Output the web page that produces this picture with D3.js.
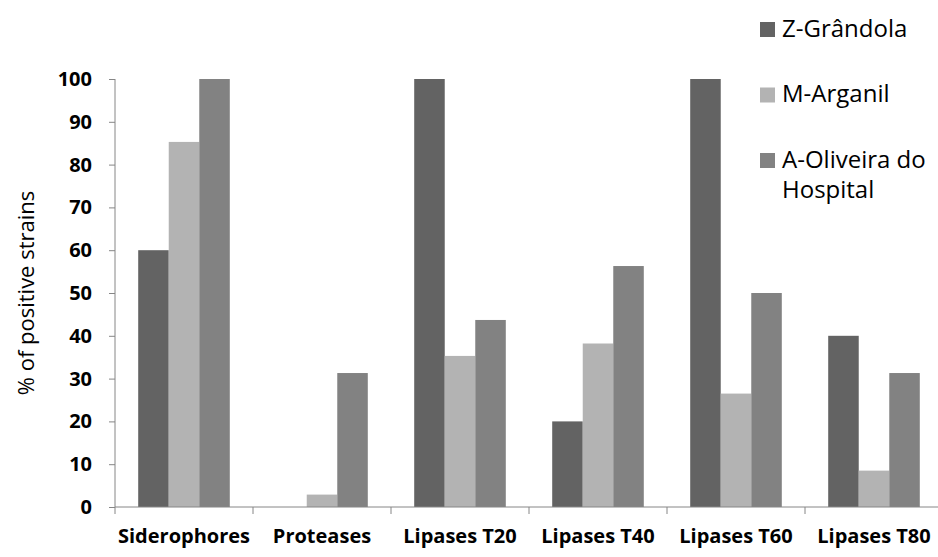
<!DOCTYPE html>
<html>
<head>
<meta charset="utf-8">
<script src="https://cdn.jsdelivr.net/npm/d3@7"></script>
<style>
  body { margin: 0; background: #fff; }
  text { font-family: "Open Sans", sans-serif; fill: #000; }
</style>
</head>
<body>
<div id="chart"></div>
<script>
// data
var categories = ["Siderophores", "Proteases", "Lipases T20", "Lipases T40", "Lipases T60", "Lipases T80"];
var series = ["Z-Grândola", "M-Arganil", "A-Oliveira do Hospital"];
var zGrandola = [60, 0, 100, 20, 100, 40];
var mArganil = [85.3, 2.9, 35.3, 38.2, 26.5, 8.5];
var aOliveira = [100, 31.3, 43.7, 56.3, 50, 31.3];
var yTicks = [0, 10, 20, 30, 40, 50, 60, 70, 80, 90, 100];
var colors = ["#636363", "#b3b3b3", "#828282"];

var values = [zGrandola, mArganil, aOliveira];
var rows = categories.map(function (c, i) {
    return { cat: c, vals: series.map(function (s, j) { return { s: s, v: values[j][i] }; }) };
});

var margin = {top: 79, right: 0, bottom: 50, left: 115};
var W = 938, H = 557;
var plotH = 507 - margin.top;

var svg = d3.select("#chart").append("svg")
    .attr("width", W)
    .attr("height", H);

var x0 = d3.scaleBand()
    .domain(categories)
    .range([0, 828])
    .paddingInner(0).paddingOuter(0);
var x1 = d3.scaleBand()
    .domain(series)
    .range([0, x0.bandwidth()])
    .paddingInner(0).paddingOuter(0.76);
var y = d3.scaleLinear().domain([0, 100]).range([plotH, 0]);

var g = svg.append("g").attr("transform", "translate(" + margin.left + "," + margin.top + ")");

// bars
g.selectAll(".grp")
    .data(rows)
    .enter().append("g")
    .attr("class", "grp")
    .attr("transform", function (d) { return "translate(" + x0(d.cat) + ",0)"; })
    .selectAll("rect")
    .data(function (d) { return d.vals; })
    .enter().append("rect")
    .attr("x", function (d) { return x1(d.s); })
    .attr("y", function (d) { return y(d.v); })
    .attr("width", x1.bandwidth())
    .attr("height", function (d) { return plotH - y(d.v); })
    .attr("fill", function (d) { return colors[series.indexOf(d.s)]; });

// y axis
var yAxis = g.append("g")
    .call(d3.axisLeft(y).tickValues(yTicks).tickSize(6).tickPadding(17));
yAxis.select(".domain").attr("stroke", "#868686").attr("d", "M0," + y(100) + "V" + plotH);
yAxis.selectAll(".tick line").attr("stroke", "#868686");
yAxis.selectAll("text")
    .style("font-size", "20px").style("font-weight", "700");

// x axis with ticks at band boundaries
var xAxis = g.append("g").attr("transform", "translate(0," + plotH + ")");
xAxis.append("line")
    .attr("x1", 0).attr("x2", W - margin.left)
    .attr("stroke", "#868686");
xAxis.selectAll(".xt")
    .data(categories)
    .enter().append("line")
    .attr("x1", function (d) { return x0(d); })
    .attr("x2", function (d) { return x0(d); })
    .attr("y2", 7)
    .attr("stroke", "#868686");
xAxis.selectAll(".xl")
    .data(categories)
    .enter().append("text")
    .attr("x", function (d) { return x0(d) + x0.bandwidth() / 2; })
    .attr("y", 36)
    .attr("text-anchor", "middle")
    .style("font-size", "20px").style("font-weight", "700")
    .text(function (d) { return d; });

// y label
svg.append("text")
    .attr("transform", "translate(34,293) rotate(-90)")
    .attr("text-anchor", "middle")
    .style("font-size", "22px")
    .text("% of positive strains");

// legend
var legendLines = [["Z-Grândola"], ["M-Arganil"], ["A-Oliveira do", "Hospital"]];
var leg = svg.append("g").attr("transform", "translate(760,0)");
var item = leg.selectAll(".li")
    .data(series)
    .enter().append("g")
    .attr("transform", function (d, i) { return "translate(0," + (22 + i * 65.5) + ")"; });
item.append("rect")
    .attr("width", 15).attr("height", 15)
    .attr("fill", function (d, i) { return colors[i]; });
item.append("text")
    .style("font-size", "24px")
    .selectAll("tspan")
    .data(function (d, i) { return legendLines[i]; })
    .enter().append("tspan")
    .attr("x", 22)
    .attr("y", function (d, i) { return 14.5 + i * 30; })
    .text(function (d) { return d; });
</script>
</body>
</html>
